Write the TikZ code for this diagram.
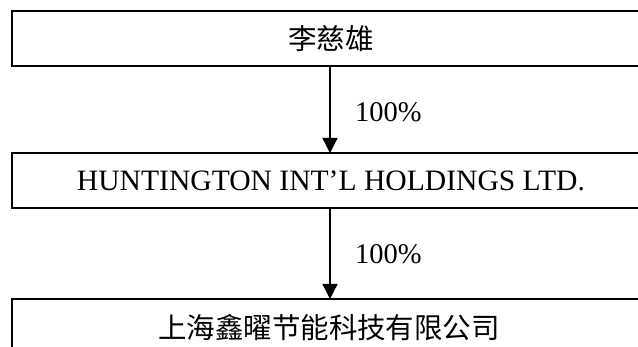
\documentclass[tikz,border=0pt]{standalone}
\usepackage{fontspec}
\setmainfont{Liberation Serif}
\newfontfamily\cjk{Noto Sans CJK SC}
\usetikzlibrary{arrows.meta}
\begin{document}
\begin{tikzpicture}[x=1pt,y=-1pt,
  boxstyle/.style={draw=black,line width=1.6pt},
  txt/.style={inner sep=0pt,font=\fontsize{28.5}{34}\selectfont},
  arr/.style={line width=1.3pt,-{Triangle[length=15pt,width=15pt]}},
  lbl/.style={inner sep=0pt,anchor=west,font=\fontsize{28.5}{34}\selectfont}]
\useasboundingbox (0,0) rectangle (638,347);
\clip (0,0) rectangle (638,347);
\fill[white] (0,0) rectangle (638,347);
\draw[boxstyle] (12,11) rectangle (650,66);
\draw[boxstyle] (12,153) rectangle (650,208);
\draw[boxstyle] (12,299) rectangle (650,356);
\coordinate (b1) at (330,66);
\coordinate (t2) at (330,153);
\coordinate (b2) at (330,208);
\coordinate (t3) at (330,299);
\node[txt] (n1) at (331,38.5) {\cjk 李慈雄};
\node[txt,font=\fontsize{29.6}{35}\selectfont] (n2) at (331,181) {HUNTINGTON INT’L HOLDINGS LTD.};
\node[txt] (n3) at (329,327.5) {\cjk 上海鑫曜节能科技有限公司};
\draw[arr] (b1) -- (t2);
\draw[arr] (b2) -- (t3);
\node[lbl] (l1) at (355,112.5) {100\%};
\node[lbl] (l2) at (355,254) {100\%};
\end{tikzpicture}
\end{document}
